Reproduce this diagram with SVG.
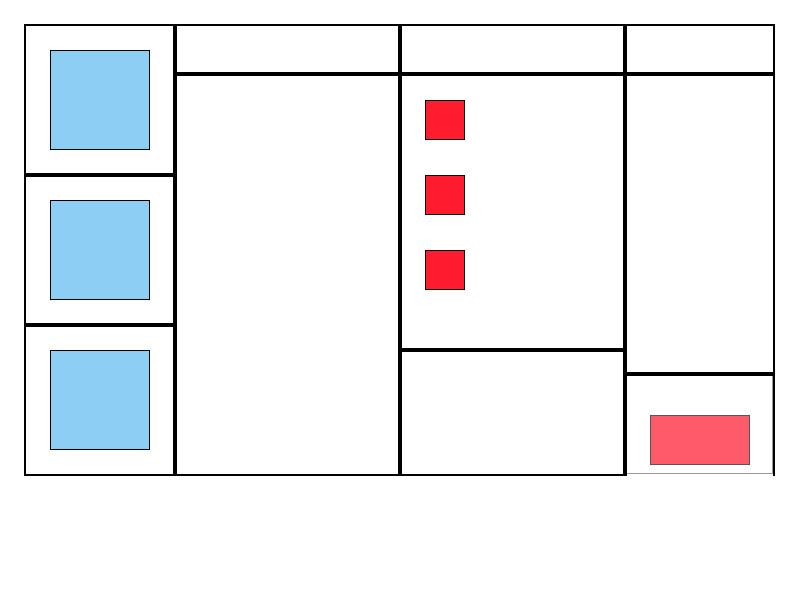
<svg xmlns="http://www.w3.org/2000/svg" width="800" height="600" viewBox="0 0 800 600">
<style>
.thin{fill:none;stroke:#000;stroke-width:2}
.thick{stroke:#000;stroke-width:4}
.blue{fill:#8DCFF4;stroke:#000;stroke-width:1}
.red{fill:#FF1C2E;stroke:#000;stroke-width:1}
</style>
<rect x="0" y="0" width="800" height="600" fill="#fff"/>
<g id="frame">
<rect class="thin" x="25" y="25" width="749" height="450"/>
</g>
<g id="cell">
<rect x="627" y="373" width="146" height="104" fill="#fff"/>
<rect x="626.5" y="375.5" width="146" height="98" fill="#fff" stroke="#999" stroke-width="1"/>
</g>
<g id="connectors">
<line class="thick" x1="175" y1="25" x2="175" y2="475"/>
<line class="thick" x1="400" y1="25" x2="400" y2="475"/>
<line class="thick" x1="625" y1="25" x2="625" y2="475"/>
<line class="thick" x1="175" y1="74" x2="774" y2="74"/>
<line class="thick" x1="25" y1="175" x2="175" y2="175"/>
<line class="thick" x1="25" y1="325" x2="175" y2="325"/>
<line class="thick" x1="400" y1="350" x2="625" y2="350"/>
<line class="thick" x1="625" y1="374" x2="774" y2="374"/>
</g>
<g id="blue1"><rect class="blue" x="50.5" y="50.5" width="99" height="99"/></g>
<g id="blue2"><rect class="blue" x="50.5" y="200.5" width="99" height="99"/></g>
<g id="blue3"><rect class="blue" x="50.5" y="350.5" width="99" height="99"/></g>
<g id="red1"><rect class="red" x="425.5" y="100.5" width="39" height="39"/></g>
<g id="red2"><rect class="red" x="425.5" y="175.5" width="39" height="39"/></g>
<g id="red3"><rect class="red" x="425.5" y="250.5" width="39" height="39"/></g>
<g id="pink"><rect x="650.5" y="415.5" width="99" height="49" fill="#FF5A69" stroke="#555" stroke-width="1"/></g>
</svg>
